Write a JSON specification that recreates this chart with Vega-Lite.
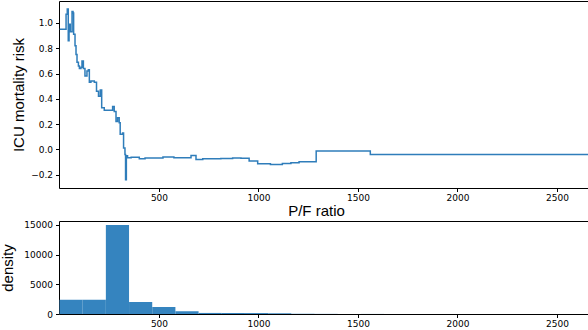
{
  "$schema": "https://vega.github.io/schema/vega-lite/v6.json",
  "padding": 0,
  "autosize": {"type": "pad"},
  "spacing": 1,
  "background": "white",
  "config": {
    "view": {"stroke": "black", "strokeWidth": 1},
    "axis": {
      "domain": false, "grid": false, "tickColor": "black", "tickSize": 3.5,
      "labelFont": "DejaVu Sans", "labelFontSize": 9, "labelColor": "black",
      "titleFont": "Liberation Sans", "titleFontSize": 15, "titleFontWeight": "normal", "titleColor": "black"
    }
  },
  "datasets": {
    "risk": [
      {"pf": 1, "risk": 0.95}, {"pf": 33, "risk": 1.07}, {"pf": 39, "risk": 1.11}, {"pf": 44, "risk": 0.86},
      {"pf": 48, "risk": 0.99}, {"pf": 54, "risk": 0.93}, {"pf": 63, "risk": 1.09}, {"pf": 68, "risk": 1.08},
      {"pf": 71, "risk": 0.91}, {"pf": 78, "risk": 0.82}, {"pf": 83, "risk": 0.75}, {"pf": 88, "risk": 0.69},
      {"pf": 95, "risk": 0.66}, {"pf": 100, "risk": 0.64}, {"pf": 108, "risk": 0.65}, {"pf": 113, "risk": 0.70},
      {"pf": 120, "risk": 0.64}, {"pf": 128, "risk": 0.58}, {"pf": 138, "risk": 0.62}, {"pf": 145, "risk": 0.63},
      {"pf": 150, "risk": 0.53}, {"pf": 158, "risk": 0.54}, {"pf": 175, "risk": 0.53}, {"pf": 186, "risk": 0.46},
      {"pf": 196, "risk": 0.42}, {"pf": 205, "risk": 0.47}, {"pf": 212, "risk": 0.33}, {"pf": 225, "risk": 0.31},
      {"pf": 259, "risk": 0.31}, {"pf": 267, "risk": 0.34}, {"pf": 275, "risk": 0.30}, {"pf": 284, "risk": 0.22},
      {"pf": 292, "risk": 0.25}, {"pf": 300, "risk": 0.21}, {"pf": 305, "risk": 0.12}, {"pf": 317, "risk": 0.13},
      {"pf": 322, "risk": 0.01}, {"pf": 329, "risk": -0.04}, {"pf": 332, "risk": -0.24}, {"pf": 336, "risk": -0.05},
      {"pf": 342, "risk": -0.066}, {"pf": 360, "risk": -0.062}, {"pf": 401, "risk": -0.074}, {"pf": 430, "risk": -0.068},
      {"pf": 520, "risk": -0.061}, {"pf": 575, "risk": -0.066}, {"pf": 661, "risk": -0.048}, {"pf": 686, "risk": -0.08},
      {"pf": 720, "risk": -0.075}, {"pf": 811, "risk": -0.072}, {"pf": 870, "risk": -0.069}, {"pf": 912, "risk": -0.07},
      {"pf": 953, "risk": -0.093}, {"pf": 996, "risk": -0.114}, {"pf": 1060, "risk": -0.12}, {"pf": 1120, "risk": -0.113},
      {"pf": 1163, "risk": -0.106}, {"pf": 1204, "risk": -0.098}, {"pf": 1290, "risk": -0.013}, {"pf": 1562, "risk": -0.04},
      {"pf": 2656, "risk": -0.04}
    ],
    "hist": [
      {"b0": 0, "b1": 116.5, "count": 2400},
      {"b0": 116.5, "b1": 233, "count": 2400},
      {"b0": 233, "b1": 349.5, "count": 15000},
      {"b0": 349.5, "b1": 466, "count": 2020},
      {"b0": 466, "b1": 582.5, "count": 1180},
      {"b0": 582.5, "b1": 699, "count": 460},
      {"b0": 699, "b1": 815.5, "count": 180},
      {"b0": 815.5, "b1": 932, "count": 170},
      {"b0": 932, "b1": 1048.5, "count": 160},
      {"b0": 1048.5, "b1": 1165, "count": 120},
      {"b0": 1165, "b1": 1281.5, "count": 40},
      {"b0": 1281.5, "b1": 1398, "count": 20},
      {"b0": 1514.5, "b1": 1631, "count": 10}
    ]
  },
  "vconcat": [
    {
      "width": 529,
      "height": 187,
      "data": {"name": "risk"},
      "mark": {"type": "line", "interpolate": "step-after", "color": "#2f7dba", "strokeWidth": 1.5, "clip": true},
      "encoding": {
        "x": {
          "field": "pf", "type": "quantitative",
          "scale": {"domain": [-2.5, 2656], "nice": false, "zero": false},
          "axis": {"values": [500, 1000, 1500, 2000, 2500], "format": "d", "title": "P/F ratio", "labelPadding": 2, "titlePadding": 1, "titleX": 257}
        },
        "y": {
          "field": "risk", "type": "quantitative",
          "scale": {"domain": [-0.306, 1.174], "nice": false, "zero": false},
          "axis": {"values": [-0.2, 0, 0.2, 0.4, 0.6, 0.8, 1.0], "format": ".1f", "title": "ICU mortality risk", "labelPadding": 3, "titlePadding": 4.5}
        }
      }
    },
    {
      "width": 529,
      "height": 93,
      "data": {"name": "hist"},
      "mark": {"type": "rect", "color": "#3584bf", "clip": true},
      "encoding": {
        "x": {
          "field": "b0", "type": "quantitative",
          "scale": {"domain": [-2.5, 2656], "nice": false, "zero": false},
          "axis": {"values": [500, 1000, 1500, 2000, 2500], "format": "d", "title": null, "labelPadding": 2}
        },
        "x2": {"field": "b1"},
        "y": {
          "field": "count", "type": "quantitative",
          "scale": {"domain": [0, 15674], "nice": false},
          "axis": {"values": [0, 5000, 10000, 15000], "format": "d", "title": "density", "labelPadding": 3, "titlePadding": 8}
        },
        "y2": {"datum": 0}
      }
    }
  ]
}
